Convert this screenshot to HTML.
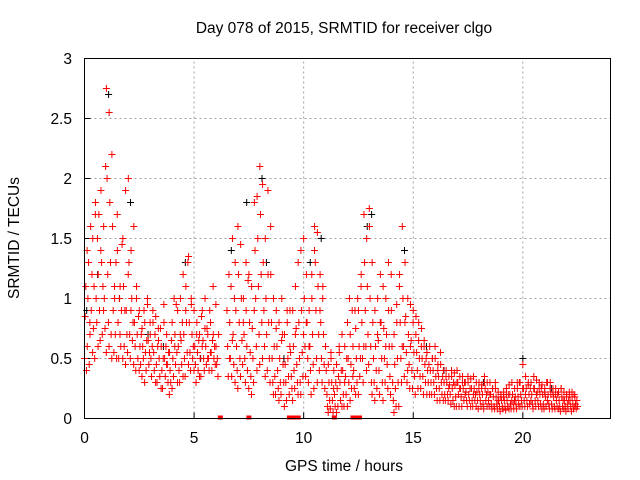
<!DOCTYPE html>
<html><head><meta charset="utf-8"><style>
body{margin:0;background:#fff}
svg{display:block;font-family:"Liberation Sans",sans-serif}
</style></head><body>
<svg id="chart" width="640" height="480" viewBox="0 0 640 480">
<rect width="640" height="480" fill="#fff"/>
<text x="344" y="33" font-size="15.5" text-anchor="middle">Day 078 of 2015, SRMTID for receiver clgo</text>
<text x="19" y="238" font-size="15.5" text-anchor="middle" transform="rotate(-90 19 238)">SRMTID / TECUs</text>
<text x="344" y="471" font-size="15.5" text-anchor="middle">GPS time / hours</text>
<g id="grid"></g><g id="ticks"></g><g id="marks"></g>
<rect x="84.5" y="58.5" width="526" height="360" fill="none" stroke="#000"/>
</svg>
<script>
const xTicks=[0,5,10,15,20];
const yTicks=[0,0.5,1,1.5,2,2.5,3];
const yTickLabels=["0","0.5","1","1.5","2","2.5","3"];
const redRows=[
[0.0,.5,.85,1.1,.4,1.4],[0.25,.7,1.6,.9,1.2,.55],[0.5,1.8,1.0,.8,1.5,.6],[0.75,1.9,1.3,.7,1.1,.9],
[1.0,2.75,2.0,1.2,.8,.6],[1.25,2.2,1.6,.9,.55,1.1],[1.5,1.4,.8,.5,1.0,.7],[1.75,1.5,1.1,.6,.9,.45],
[2.0,2.0,1.3,.7,.5,.9],[2.25,1.6,.8,.6,.4,1.0],[2.5,.9,.6,.45,.7,.35],[2.75,.8,.55,.4,.65,1.0],
[3.0,.7,.5,.35,.6,.9],[3.25,.85,.45,.3,.6,.75],[3.5,.6,.4,.25,.5,.95],[3.75,.7,.45,.3,.55,.2],
[4.0,.8,.5,.35,1.0,.6],[4.25,.9,.6,.4,.3,.7],[4.5,1.2,.7,.5,.35,.9],[4.75,1.35,.8,.55,.4,1.0],
[5.0,.9,.6,.45,.3,.7],[5.25,.7,.5,.35,.85,.6],[5.5,1.0,.6,.45,.75,.5],[5.75,.8,.55,.4,.65,1.1],
[6.0,.6,.45,.5,.35,.7],[6.5,.9,.6,.35,1.2,.5],[6.75,1.5,.7,.45,1.0,.3],[7.0,1.6,1.2,.8,.5,.35],
[7.25,1.0,.7,.5,.3,1.3],[7.5,1.2,.8,.55,.35,.2],[7.75,1.8,1.4,1.0,.6,.4],[8.0,2.1,1.7,1.2,.8,.5],
[8.25,1.5,1.0,.7,.4,1.9],[8.5,1.2,.8,.5,.3,.2],[8.75,.9,.6,.4,.25,.15],[9.0,1.0,.7,.45,.3,.1],
[9.25,.8,.5,.35,.2,.6],[9.5,.9,.6,.4,.25,.7],[9.75,1.3,.8,.5,.3,.2],[10.0,1.5,1.0,.6,.35,.8],
[10.25,.9,.6,.4,.2,1.2],[10.5,1.6,1.3,.9,.5,.3],[10.75,1.2,.8,.5,.3,1.0],[11.0,.6,.4,.2,.1,.05],
[11.25,.5,.3,.15,.05,.25],[11.5,.45,.25,.1,.35,.6],[11.75,.7,.4,.2,.1,.3],[12.0,.8,.5,.3,1.0,.15],
[12.25,.6,.4,.25,.9,.2],[12.5,.9,.6,.35,.5,1.1],[12.75,1.7,1.3,.9,.6,.4],[13.0,1.6,1.0,.6,.3,.2],
[13.25,.9,.6,.4,.25,.7],[13.5,1.2,.8,.5,.3,.15],[13.75,1.0,.7,.45,.25,1.3],[14.0,.9,.6,.3,.15,.05],
[14.25,.8,.5,.3,.1,1.1],[14.5,1.6,1.0,.6,.35,.8],[14.75,1.0,.7,.45,.25,.6],[15.0,.9,.55,.35,.2,.7],
[15.25,.8,.5,.35,.25,.6],[15.5,.65,.45,.3,.5,.2],[15.75,.6,.4,.3,.2,.5],[16.0,.5,.35,.25,.15,.4],
[16.25,.45,.3,.2,.35,.15],[16.5,.4,.3,.2,.15,.25],[16.75,.35,.25,.15,.3,.1],[17.0,.4,.3,.2,.1,.25],
[17.25,.35,.25,.15,.3,.2],[17.5,.3,.2,.15,.25,.1],[17.75,.35,.25,.15,.2,.1],[18.0,.3,.2,.15,.1,.25],
[18.25,.35,.25,.15,.2,.1],[18.5,.3,.2,.12,.08,.25],[18.75,.25,.18,.12,.08,.15],[19.0,.2,.15,.1,.08,.18],
[19.25,.25,.15,.1,.2,.08],[19.5,.3,.2,.12,.08,.15],[19.75,.25,.18,.12,.3,.1],[20.0,.45,.25,.15,.1,.2],
[20.25,.3,.2,.12,.25,.15],[20.5,.35,.25,.15,.1,.2],[20.75,.3,.2,.12,.25,.08],[21.0,.25,.18,.1,.3,.15],
[21.25,.3,.2,.12,.08,.22],[21.5,.25,.15,.1,.2,.08],[21.75,.25,.18,.1,.15,.08],[22.0,.2,.12,.08,.15,.22],
[22.25,.18,.12,.08,.2,.1]];
const redRows2=[
[0.125,.6,1.0,1.3,.45,.8],[0.375,1.5,.75,1.1,.5,1.7],[0.625,1.2,1.7,.9,.65,1.4],[0.875,1.6,1.0,.75,2.1,.55],
[1.125,2.55,1.8,1.3,.7,.5],[1.375,1.0,.7,1.3,.5,1.7],[1.625,1.1,.6,.9,1.45,.5],[1.875,1.9,.9,.7,.55,1.2],
[2.125,1.4,1.0,.65,.8,.45],[2.375,1.1,.7,.5,.85,.4],[2.625,.75,.6,.5,.9,.3],[2.875,.95,.65,.45,.55,.8],
[3.125,.8,.55,.4,.7,.3],[3.375,.65,.5,.35,.75,.25],[3.625,.8,.5,.35,.6,.45],[3.875,.55,.4,.3,.65,.25],
[4.125,.7,.45,.95,.55,.3],[4.375,1.0,.65,.45,.8,.35],[4.625,1.1,.8,.55,1.3,.45],[4.875,.95,.7,.5,.6,.4],
[5.125,.8,.55,.4,.65,.35],[5.375,.9,.65,.5,.4,.75],[5.625,.7,.5,.4,.9,.55],[5.875,.7,.5,.6,.45,.95],
[6.625,.8,.5,1.1,.35,.65],[6.875,1.3,.9,.6,.4,.25],[7.125,1.45,1.0,.65,.45,.8],[7.375,.9,.6,.4,1.15,.25],
[7.625,1.1,.75,.5,.3,.9],[7.875,1.85,1.5,1.1,.7,.45],[8.125,1.95,1.3,.9,.6,.35],[8.375,1.2,.8,.5,.3,1.6],
[8.625,1.0,.6,.35,.2,.75],[8.875,.8,.5,.3,.2,.65],[9.125,.7,.45,.3,.15,.9],[9.375,.9,.55,.35,.25,.15],
[9.625,1.1,.75,.45,.3,.2],[9.875,1.4,.9,.55,.35,.7],[10.125,1.2,.8,.5,.3,.6],[10.375,1.0,.7,.45,.25,1.4],
[10.625,1.55,1.1,.7,.4,.9],[10.875,1.1,.7,.45,.25,.6],[11.125,.45,.3,.15,.08,.55],[11.375,.4,.2,.1,.3,.05],
[11.625,.55,.3,.15,.4,.1],[11.875,.6,.35,.2,.5,.1],[12.125,.7,.45,.25,.9,.35],[12.375,.75,.5,.3,1.0,.2],
[12.625,1.2,.8,.5,.3,.6],[12.875,1.5,1.1,.7,.45,1.75],[13.125,1.3,.8,.5,.3,.15],[13.375,1.0,.65,.4,.2,.8],
[13.625,1.1,.75,.5,.3,.6],[13.875,.9,.6,.35,.2,1.2],[14.125,.7,.45,.25,.1,.95],[14.375,1.2,.8,.5,.3,.6],
[14.625,1.3,.85,.55,.3,.4],[14.875,.95,.65,.4,.25,.8],[15.125,.85,.55,.4,.25,.65],[15.375,.75,.5,.35,.2,.6],
[15.625,.55,.4,.3,.45,.2],[15.875,.5,.4,.3,.2,.6],[16.125,.45,.35,.25,.15,.55],[16.375,.4,.3,.2,.15,.35],
[16.625,.35,.28,.2,.12,.4],[16.875,.38,.28,.18,.1,.3],[17.125,.35,.25,.18,.1,.3],[17.375,.3,.22,.15,.1,.35],
[17.625,.33,.25,.15,.1,.2],[17.875,.3,.22,.15,.08,.25],[18.125,.28,.2,.12,.08,.3],[18.375,.3,.22,.15,.1,.2],
[18.625,.25,.18,.1,.08,.3],[18.875,.22,.15,.1,.06,.18],[19.125,.22,.15,.1,.07,.2],[19.375,.28,.2,.12,.08,.15],
[19.625,.25,.18,.12,.08,.3],[19.875,.3,.2,.15,.1,.25],[20.125,.35,.25,.15,.1,.28],[20.375,.3,.2,.12,.08,.25],
[20.625,.32,.22,.15,.1,.25],[20.875,.28,.2,.12,.08,.22],[21.125,.3,.2,.12,.08,.25],[21.375,.25,.18,.1,.08,.2],
[21.625,.22,.15,.1,.06,.25],[21.875,.22,.15,.1,.06,.18],[22.125,.2,.15,.1,.06,.22],[22.375,.18,.12,.08,.15,.1]];
const blackX=[0.1,0.6,1.1,1.6,2.1,2.9,3.6,4.6,5.3,6.7,7.4,8.1,8.3,9.1,10.3,10.8,12.9,13.1,14.6,15.6,16.4,18.2,20.0,21.3];
const blackY=[0.9,1.2,2.7,1.0,1.8,0.7,0.6,1.3,0.5,1.4,1.8,2.0,1.3,0.5,1.3,1.5,1.6,1.7,1.4,0.6,0.4,0.3,0.5,0.25];
const zeroX=[6.2,7.5,9.35,9.45,9.6,9.75,11.4,12.25,12.4,12.55];
const NS="http://www.w3.org/2000/svg";
const X0=84.5,X1=610.5,Y0=418.5,Y1=58.5;
const sx=t=>X0+t/24*(X1-X0);
const sy=v=>Y0-v/3*(Y0-Y1);
function mk(tag,a,parent){const e=document.createElementNS(NS,tag);for(const k in a)e.setAttribute(k,a[k]);parent.appendChild(e);return e;}
const grid=document.getElementById('grid'),ticks=document.getElementById('ticks'),marks=document.getElementById('marks');
xTicks.forEach(t=>{const x=sx(t);
 if(t>0){const g=mk('line',{x1:x,x2:x,y1:Y0,y2:Y1,stroke:'#a0a0a0','stroke-dasharray':'2,3'},grid);
 
 }
 const l=mk('line',{x1:x,x2:x,y1:Y0,y2:Y0-6,stroke:'#000'},ticks);
 
 
 const tx=mk('text',{x:x,y:443,'font-size':15.5,'text-anchor':'middle'},ticks);tx.textContent=String(t);
 
 
});
yTicks.forEach((v,i)=>{const y=sy(v);
 if(v>0&&v<3){const g=mk('line',{x1:X0,x2:X1,y1:y,y2:y,stroke:'#a0a0a0','stroke-dasharray':'2,3'},grid);
 
 }
 const l=mk('line',{x1:X0,x2:X0+6,y1:y,y2:y,stroke:'#000'},ticks);
 
 
 const tx=mk('text',{x:72,y:y+5.5,'font-size':15.5,'text-anchor':'end'},ticks);tx.textContent=yTickLabels[i];
 
 
});
function plus(x,y,c,name){const p=mk('path',{d:`M${x-3.5},${y}h7M${x},${y-3.5}v7`,stroke:c,'stroke-width':1,fill:'none'},marks);
 
 }
blackX.forEach((t,i)=>plus(sx(t),sy(blackY[i]),'#000','black-point'));
redRows.concat(redRows2).forEach(r=>{for(let j=1;j<r.length;j++)plus(sx(r[0]+(j-1)*0.03),sy(r[j]),'#f00','red-point');});
zeroX.forEach(t=>{const s=mk('rect',{x:sx(t)-2.5,y:Y0-3,width:5,height:4,fill:'#f00'},marks);
 
 });
</script>
</body></html>
